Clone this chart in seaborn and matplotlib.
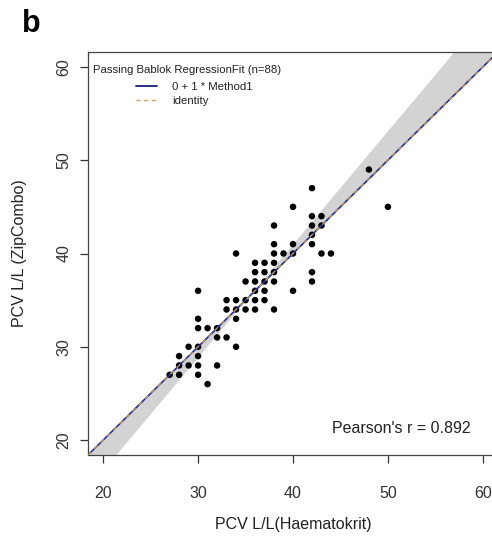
import numpy as np
import pandas as pd
import matplotlib
matplotlib.use("Agg")
import matplotlib.pyplot as plt
from matplotlib.lines import Line2D
import seaborn as sns

# Paired PCV measurements (L/L, x100): Haematokrit reference vs ZipCombo
haematokrit = [48, 42, 40, 50, 42, 43, 38, 42, 43, 42, 38, 40, 42,
               34, 38, 39, 40, 43, 44, 36, 37, 38, 36, 37, 38, 42,
               35, 36, 37, 38, 42, 30, 36, 37, 40, 33, 34, 35, 36, 37,
               33, 34, 35, 36, 38, 30, 34, 30, 31, 32, 32, 33,
               29, 30, 34, 28, 30, 28, 29, 30, 32, 27, 28, 30, 31]
zipcombo = [49, 47, 45, 45, 44, 44, 43, 43, 43, 42, 41, 41, 41,
            40, 40, 40, 40, 40, 40, 39, 39, 39, 38, 38, 38, 38,
            37, 37, 37, 37, 37, 36, 36, 36, 36, 35, 35, 35, 35, 35,
            34, 34, 34, 34, 34, 33, 33, 32, 32, 32, 31, 31,
            30, 30, 30, 29, 29, 28, 28, 28, 28, 27, 27, 27, 26]

# Passing-Bablok fit and confidence limits of the coefficients
n_pairs = 88
intercept, slope = 0.0, 1.0
intercept_ci = [0.0, -7.45]
slope_ci = [1.0, 1.213]
pearson_r = 0.892

axis_ticks = [20, 30, 40, 50, 60]
axis_lim = [18.4, 61.6]

sns.set_style("white")
plt.rcParams["font.family"] = ["Liberation Sans", "DejaVu Sans"]
plt.rcParams["text.color"] = "#222222"
plt.rcParams["axes.labelcolor"] = "#222222"
plt.rcParams["xtick.color"] = "#333333"
plt.rcParams["ytick.color"] = "#333333"

fig = plt.figure(figsize=(4.92, 5.41), dpi=100)
W, H = 492, 541
ax = fig.add_axes([88 / W, (H - 455) / H, 410 / W, 403 / H])

pts = pd.DataFrame({"x": haematokrit, "y": zipcombo})

# confidence band of the regression line
xs = np.linspace(axis_lim[0], axis_lim[1], 200)
edge1 = intercept_ci[0] + slope_ci[0] * xs
edge2 = intercept_ci[1] + slope_ci[1] * xs
ax.fill_between(xs, np.minimum(edge1, edge2), np.maximum(edge1, edge2),
                color="#d3d3d3", linewidth=0, zorder=1)

sns.scatterplot(data=pts, x="x", y="y", color="black", s=22,
                edgecolor="none", ax=ax, zorder=3, legend=False)

fit = pd.DataFrame({"x": xs, "fit": intercept + slope * xs, "ident": xs})
reg_color = "#27308a"
id_color = "#d6a35c"
sns.lineplot(data=fit, x="x", y="fit", color=reg_color, linewidth=1.2,
             ax=ax, zorder=4)
sns.lineplot(data=fit, x="x", y="ident", color=id_color, linewidth=0.8,
             ax=ax, zorder=5, dashes=False, linestyle=(0, (4, 4)))

ax.set_xlim(axis_lim)
ax.set_ylim(axis_lim)
ax.set_xticks(axis_ticks)
ax.set_yticks(axis_ticks)
ax.tick_params(axis="both", direction="out", length=6, width=0.9,
               labelsize=11.5, left=True, bottom=True)
ax.tick_params(axis="x", pad=16)
ax.tick_params(axis="y", pad=6)
for lab in ax.get_yticklabels():
    lab.set_rotation(90)
    lab.set_va("center")
for sp in ax.spines.values():
    sp.set_visible(True)
    sp.set_color("#444444")
    sp.set_linewidth(0.9)

ax.set_xlabel("PCV L/L(Haematokrit)", fontsize=11.5)
ax.set_ylabel("PCV L/L (ZipCombo)", fontsize=11.5)
ax.xaxis.label.set_va("center")
ax.yaxis.label.set_va("center")
ax.xaxis.set_label_coords(0.5, (455 - 525) / 403)
ax.yaxis.set_label_coords((20 - 88) / 410, 0.5)

# legend: title on its own line, entries indented below it
ax.text(5 / 410, 1 - (70 - 52) / 403,
        f"Passing Bablok RegressionFit (n={n_pairs})",
        transform=ax.transAxes, fontsize=8.2, va="center", ha="left")
handles = [Line2D([], [], color=reg_color, linewidth=1.4),
           Line2D([], [], color=id_color, linewidth=1.0, linestyle=(0, (3, 2.5)))]
labels = [f"{intercept:.0f} + {slope:.0f} * Method1", "identity"]
ax.legend(handles, labels, loc="upper left",
          bbox_to_anchor=((136 - 88) / 410, 1 - (82 - 52) / 403),
          frameon=False, fontsize=8.2, borderpad=0, borderaxespad=0,
          handlelength=1.8, handletextpad=1.4, labelspacing=0.35)

ax.text(58.74, 21.29, f"Pearson's r = {pearson_r}", fontsize=11.5,
        ha="right", va="center")

fig.text(22 / W, 1 - 32 / H, "b", fontsize=22, fontweight="bold",
         ha="left", va="baseline", color="black")

fig.savefig("out.png", dpi=100)
